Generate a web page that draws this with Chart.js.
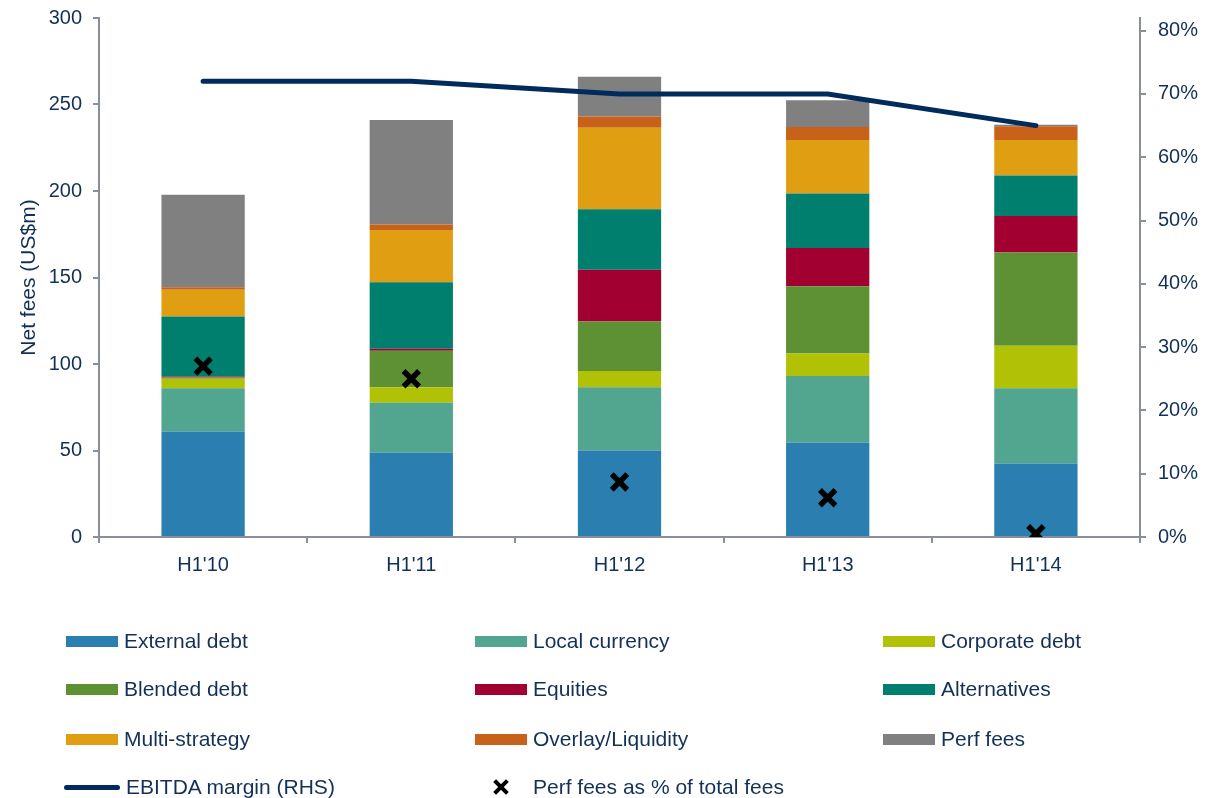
<!DOCTYPE html>
<html lang="en">
<head>
  <meta charset="UTF-8">
  <title>Net fees by business line</title>
  <script src="https://cdn.jsdelivr.net/npm/chart.js"></script>
  <style>
    body { margin: 0; background: #fff; font-family: "Liberation Sans", Arial, sans-serif; }
    .chart-container { position: relative; width: 1221px; height: 600px; }
    #legend { position: absolute; left: 0; top: 0; width: 1221px; height: 798px; pointer-events: none; }
    .item { position: absolute; display: flex; align-items: center; font-size: 21px; color: #13305a; white-space: nowrap; }
    .swatch { display: inline-block; width: 52px; height: 11px; margin-right: 6px; }
    .swatch.line { width: 56px; height: 5px; border-radius: 3px; margin-left: -2px; }
    .swatch.cross { position: relative; width: 16px; height: 16px; margin-left: 18px; margin-right: 24px; }
    .swatch.cross::before, .swatch.cross::after {
      content: ""; position: absolute; left: -1px; top: 6px; width: 18px; height: 4px; background: #000;
    }
    .swatch.cross::before { transform: rotate(45deg); }
    .swatch.cross::after { transform: rotate(-45deg); }
  </style>
</head>
<body>
  <div class="chart-container">
    <canvas id="feesChart" width="1221" height="600"></canvas>
  </div>
  <div id="legend"></div>

  <script>
    // Periods
    const periods = ["H1'10", "H1'11", "H1'12", "H1'13", "H1'14"];

    // Net fees by business line (US$m)
    const externalDebt  = [61, 48.7, 50, 54.5, 42.5];
    const localCurrency = [25, 28.9, 36.5, 38.5, 43.5];
    const corporateDebt = [5.5, 8.9, 9.5, 13, 24.5];
    const blendedDebt   = [0.7, 21.2, 28.5, 39, 54];
    const equities      = [0.6, 1.1, 30, 22, 21];
    const alternatives  = [34.6, 38.4, 35, 31.5, 23.5];
    const multiStrategy = [15.5, 30.3, 47, 31, 20.5];
    const overlay       = [1.5, 3.2, 6.5, 7.5, 8];
    const perfFees      = [53.4, 60.3, 23, 15.5, 0.8];

    // Right hand side (%)
    const ebitdaMargin = [72, 72, 70, 70, 65];
    const perfShare    = [27, 25, 8.7, 6.2, 0.5];

    const leftTicks = [0, 50, 100, 150, 200, 250, 300];

    const textColor = '#13305a';
    const axisColor = '#8a8e9c';

    const barSeries = [
      { label: 'External debt',  data: externalDebt,  color: '#2a7fb0' },
      { label: 'Local currency', data: localCurrency, color: '#52a58e' },
      { label: 'Corporate debt', data: corporateDebt, color: '#b1c106' },
      { label: 'Blended debt',   data: blendedDebt,   color: '#5e9134' },
      { label: 'Equities',       data: equities,      color: '#a10030' },
      { label: 'Alternatives',   data: alternatives,  color: '#007f6f' },
      { label: 'Multi-strategy', data: multiStrategy, color: '#e09f12' },
      { label: 'Overlay/Liquidity', data: overlay,    color: '#c8611a' },
      { label: 'Perf fees',      data: perfFees,      color: '#808080' }
    ];

    const datasets = barSeries.map(s => ({
      type: 'bar',
      label: s.label,
      data: s.data,
      backgroundColor: s.color,
      borderWidth: 0,
      barPercentage: 0.4,
      categoryPercentage: 1.0,
      yAxisID: 'y',
      stack: 'fees'
    }));

    datasets.push({
      type: 'line',
      label: 'EBITDA margin (RHS)',
      data: ebitdaMargin,
      borderColor: '#002b5c',
      borderWidth: 5,
      borderCapStyle: 'round',
      pointRadius: 0,
      tension: 0,
      yAxisID: 'y2',
      order: -1
    });

    datasets.push({
      type: 'line',
      label: 'Perf fees as % of total fees',
      data: perfShare,
      showLine: false,
      pointStyle: 'crossRot',
      pointRadius: 11,
      pointBorderWidth: 5.5,
      pointBorderColor: '#000',
      pointBackgroundColor: '#000',
      yAxisID: 'y2',
      order: -2
    });

    Chart.defaults.font.family = '"Liberation Sans", Arial, sans-serif';
    Chart.defaults.font.size = 20;
    Chart.defaults.color = textColor;

    // vertical axes: fixed width, no extra room reserved for the end labels
    const fixVertical = width => s => {
      s.width = width;
      s.paddingTop = 0;
      s.paddingBottom = 0;
    };

    const ctx = document.getElementById('feesChart').getContext('2d');
    const chart = new Chart(ctx, {
      data: { labels: periods, datasets: datasets },
      options: {
        responsive: false,
        animation: false,
        layout: { padding: { top: 18, left: 0, right: 0, bottom: 0 } },
        plugins: {
          legend: { display: false },
          tooltip: { enabled: false }
        },
        scales: {
          x: {
            stacked: true,
            offset: true,
            grid: { display: true, drawOnChartArea: false, offset: true, tickLength: 6, color: axisColor, lineWidth: 2 },
            border: { color: axisColor, width: 2 },
            ticks: { padding: 10, color: textColor },
            afterFit: s => { s.height = 63; s.paddingLeft = 0; s.paddingRight = 0; }
          },
          y: {
            stacked: true,
            position: 'left',
            min: 0,
            max: 300,
            afterBuildTicks: s => { s.ticks = leftTicks.map(v => ({ value: v })); },
            grid: { display: true, drawOnChartArea: false, tickLength: 6, color: axisColor, lineWidth: 2 },
            border: { color: axisColor, width: 2 },
            ticks: { padding: 11, color: textColor },
            title: { display: true, text: 'Net fees (US$m)', color: textColor, font: { size: 21 }, padding: { top: 17, bottom: 0 } },
            afterFit: fixVertical(99)
          },
          y2: {
            position: 'right',
            min: 0,
            max: 82,
            grid: { display: true, drawOnChartArea: false, tickLength: 6, color: axisColor, lineWidth: 2 },
            border: { color: axisColor, width: 2 },
            ticks: { stepSize: 10, includeBounds: false, padding: 12, color: textColor, callback: v => v + '%' },
            afterFit: fixVertical(81)
          }
        }
      }
    });

    // Legend laid out in three columns underneath the chart
    const legend = document.getElementById('legend');
    const colX = [66, 475, 883];
    const rowY = [641, 689, 739, 787];
    const legendItems = barSeries.map(s => ({ label: s.label, kind: 'box', color: s.color }));
    legendItems.push({ label: 'EBITDA margin (RHS)', kind: 'line', color: '#002b5c' });
    legendItems.push({ label: 'Perf fees as % of total fees', kind: 'cross', color: '#000' });

    legendItems.forEach((it, i) => {
      const el = document.createElement('div');
      el.className = 'item';
      el.style.left = colX[i % 3] + 'px';
      el.style.top = (rowY[Math.floor(i / 3)] - 12) + 'px';
      el.style.height = '24px';
      const sw = document.createElement('span');
      sw.className = 'swatch' + (it.kind === 'box' ? '' : ' ' + it.kind);
      if (it.kind !== 'cross') sw.style.background = it.color;
      el.appendChild(sw);
      el.appendChild(document.createTextNode(it.label));
      legend.appendChild(el);
    });
  </script>
</body>
</html>
